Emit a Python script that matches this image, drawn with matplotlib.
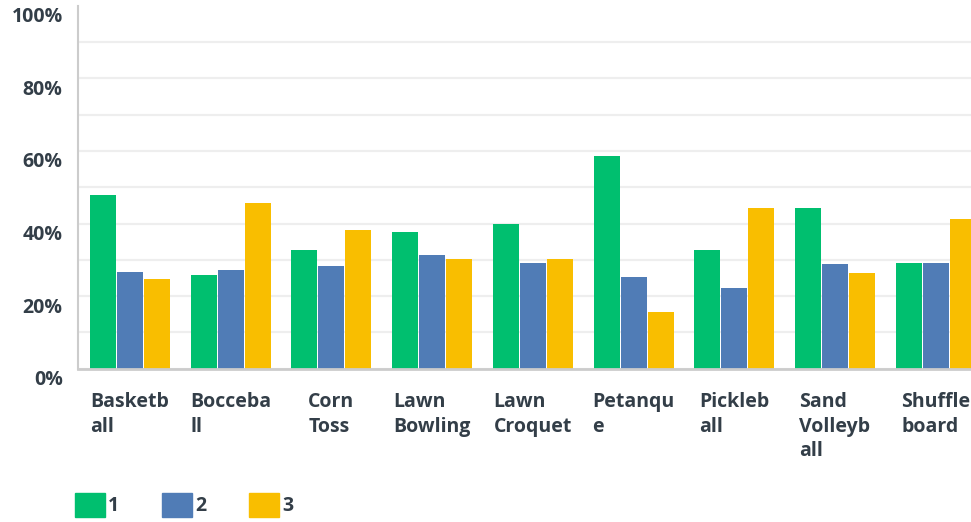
import matplotlib

matplotlib.use("Agg")
import matplotlib.pyplot as plt
import matplotlib.transforms as mtransforms
import numpy as np
from matplotlib.patches import Patch

# sports rated 1-3, share of respondents (%)
categories = [
    "Basketb\nall", "Bocceba\nll", "Corn\nToss", "Lawn\nBowling", "Lawn\nCroquet",
    "Petanqu\ne", "Pickleb\nall", "Sand\nVolleyb\nall", "Shuffle\nboard",
]
rating_1 = [47.8, 25.8, 32.7, 37.7, 39.9, 58.6, 32.7, 44.2, 29.1]
rating_2 = [26.6, 27.2, 28.3, 31.3, 29.1, 25.3, 22.2, 28.8, 29.1]
rating_3 = [24.7, 45.6, 38.2, 30.2, 30.2, 15.6, 44.2, 26.3, 41.3]
series_names = ["1", "2", "3"]
y_ticks = [0, 20, 40, 60, 80, 100]
y_minor = [10, 30, 50, 70, 90]

colors = ["#00bf6f", "#507cb6", "#f9be00"]
text_color = "#333e48"
plt.rcParams["font.family"] = ["Open Sans", "DejaVu Sans"]
fsize = 14

fig = plt.figure(figsize=(9.71, 5.22), dpi=100)
ax = fig.add_axes([78 / 971, 153.3 / 522, 1 - 78 / 971, 362.9 / 522])

x = np.arange(len(categories))
width = 0.258
step = 0.268
for i, vals in enumerate([rating_1, rating_2, rating_3]):
    ax.bar(x + (i - 1) * step, vals, width, color=colors[i], zorder=3)

ax.set_xlim(-0.516, 8.35)
ax.set_ylim(0, 100)
ax.set_yticks(y_ticks)
ax.set_yticks(y_minor, minor=True)
ax.set_yticklabels([f"{v}%" for v in y_ticks], fontsize=fsize,
                   fontweight="bold", color=text_color)
ax.grid(axis="y", which="both", color="#eeeeee", linewidth=1.6, zorder=0)
ax.yaxis.get_gridlines()[-1].set_visible(False)
ax.tick_params(axis="y", which="both", length=0, pad=11)

offset = mtransforms.ScaledTranslation(0, -0.09, fig.dpi_scale_trans)
for lab in ax.get_yticklabels():
    lab.set_transform(lab.get_transform() + offset)

ax.set_xticks(x)
ax.set_xticklabels(categories, fontsize=fsize, fontweight="bold",
                   color=text_color, ha="center", multialignment="left",
                   linespacing=1.3)
ax.tick_params(axis="x", length=0, pad=17)

for side in ["top", "right"]:
    ax.spines[side].set_visible(False)
ax.spines["left"].set_color("#cccccc")
ax.spines["left"].set_linewidth(1.5)
ax.spines["bottom"].set_color("#cccccc")
ax.spines["bottom"].set_linewidth(2)
ax.spines["bottom"].set_zorder(4)

handles = [Patch(facecolor=c, edgecolor=c) for c in colors]
fig.legend(handles, series_names, loc="center left",
           bbox_to_anchor=(75 / 971, 1 - 505 / 522), ncol=3, frameon=False,
           borderpad=0, borderaxespad=0, handlelength=1.55, handleheight=1.55,
           handletextpad=0.15, columnspacing=2.2,
           prop={"size": fsize, "weight": "bold"}, labelcolor=text_color)

fig.savefig("out.png", dpi=100)
